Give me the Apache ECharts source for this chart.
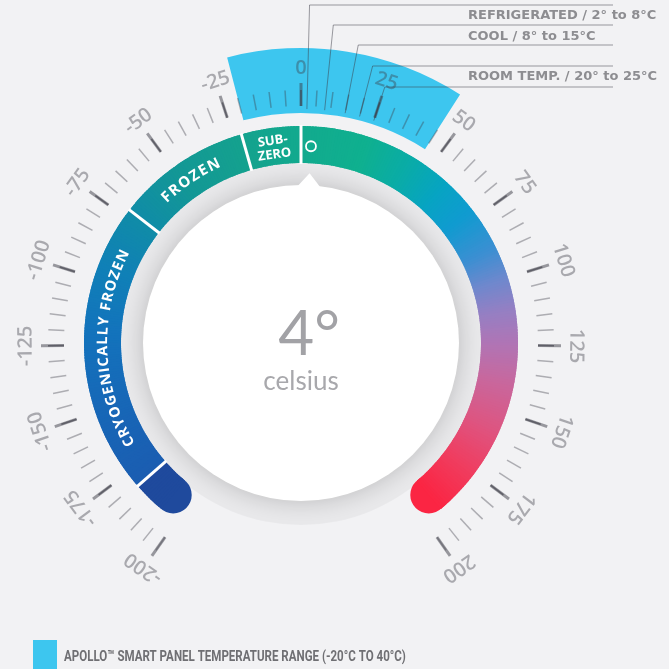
<!DOCTYPE html>
<html>
<head>
<meta charset="utf-8">
<script src="https://cdn.jsdelivr.net/npm/echarts@6/dist/echarts.min.js"></script>
<style>
  html, body { margin: 0; background: #f2f2f4; }
  #chart { width: 669px; height: 669px; }
</style>
</head>
<body>
<div id="chart"></div>
<script>
/* temperature dial: scale -200..200 °C, coloured zones, panel range, callouts */
const scaleMin = -200, scaleMax = 200;
const currentTemp = 4;

// coloured band, split into named zones
const zoneStart = [-193, -181, -72, -22, 0];
const zoneEnd = [-181, -72, -22, 0, 193];
const zoneLabel = ['', 'CRYOGENICALLY FROZEN', 'FROZEN', 'SUB-\nZERO', ''];
const zoneFont = [0, 14.5, 15, 13, 0];
const zoneSpacing = [0, 1.2, 1.6, 0, 0];

// colour stops along the band
const gradVals = [-181, -150, -120, -95, -72, -50, -22, 0, 25, 42, 58, 72, 88, 100, 112, 125, 140, 158, 176, 193];
const gradColors = ['#1b5db1', '#1767b7', '#1373bc', '#1080b7', '#108ca7', '#139796', '#14a28e', '#12aa8e', '#0fb08f',
  '#0aaca6', '#07a4c2', '#109bd0', '#3b8fd2', '#6e88cd', '#967fc3', '#b174b4', '#c9679c', '#de5480', '#f03c5e', '#fb2543'];
const capColor = '#1f4a9d';

// blue panel range
const panelFrom = -20, panelTo = 45;
const panelName = 'APOLLO™ SMART PANEL TEMPERATURE RANGE (-20°C TO 40°C)';

// callouts at the top right
const calloutVals = [2, 8, 15, 20, 25];
const calloutText = ['REFRIGERATED / 2° to 8°C', 'COOL / 8° to 15°C', 'ROOM TEMP. / 20° to 25°C'];

/* layout */
const CX = 301, CY = 343;
const BAND_R0 = 180, BAND_R = 217, BAND_MID = 198.5;
const lineY = [5, 25, 45, 66, 87], lineEndX = 613;
const textY = [16, 37, 77], textX = 468;
const INK = a => 'rgba(60,60,70,' + a + ')';

const mctx = document.createElement('canvas').getContext('2d');
const charW = (ch, font) => { mctx.font = font; return mctx.measureText(ch).width; };

function gradAt(v) {
  if (v <= gradVals[0]) return gradColors[0];
  for (let i = 1; i < gradVals.length; i++) {
    if (v <= gradVals[i]) {
      const t = (v - gradVals[i - 1]) / (gradVals[i] - gradVals[i - 1]);
      return echarts.color.lerp(t, [gradColors[i - 1], gradColors[i]]);
    }
  }
  return gradColors[gradColors.length - 1];
}

// canvas angle of a value, read through the polar axis
function angOf(api, v) {
  const c = api.coord([0, v]), p = api.coord([100, v]);
  return Math.atan2(p[1] - c[1], p[0] - c[0]);
}
function sectorShape(api, v0, v1, r0, r, pad) {
  const c = api.coord([0, v0]);
  let a0 = angOf(api, v0), a1 = angOf(api, v1);
  if (a1 < a0) a1 += 2 * Math.PI;
  return { cx: c[0], cy: c[1], r0, r, startAngle: a0, endAngle: a1 + (pad || 0), clockwise: true };
}

function renderZone(params, api) {
  const i = params.dataIndex, last = zoneStart.length - 1;
  const s = api.value(1), e = api.value(2);
  const kids = [];
  const col = v => i === 0 ? capColor : gradAt(v);
  const w = BAND_R - BAND_R0;
  if (i === 0) { const p = api.coord([BAND_MID, s]); kids.push({ type: 'circle', shape: { cx: p[0], cy: p[1], r: w / 2 }, style: { fill: capColor } }); }
  if (i === last) { const p = api.coord([BAND_MID, e]); kids.push({ type: 'circle', shape: { cx: p[0], cy: p[1], r: w / 2 }, style: { fill: gradAt(e) } }); }
  for (let v = s; v < e; v += 1) {
    const v2 = Math.min(v + 1, e);
    kids.push({ type: 'sector', shape: sectorShape(api, v, v2, BAND_R0, BAND_R, v2 < e ? 0.01 : 0), style: { fill: col((v + v2) / 2) } });
  }
  if (i > 0) {
    const a = api.coord([BAND_R0 - 1, s]), b = api.coord([BAND_R + 1, s]);
    kids.push({ type: 'line', shape: { x1: a[0], y1: a[1], x2: b[0], y2: b[1] }, style: { stroke: '#fff', lineWidth: 3 } });
  }
  const lab = zoneLabel[i];
  if (lab) {
    const vm = (s + e) / 2;
    const rr = 198;
    const fs = zoneFont[i];
    const rot = v => -angOf(api, v) - Math.PI / 2;
    if (lab.indexOf('\n') >= 0) {
      const p = api.coord([rr - 1, vm]);
      kids.push({ type: 'text', x: p[0], y: p[1], rotation: rot(vm),
        style: { text: lab, fill: '#fff', fontSize: fs, fontWeight: 'bold', fontFamily: 'Open Sans', lineHeight: 14, align: 'center', verticalAlign: 'middle' } });
    } else {
      const font = 'bold ' + fs + 'px "Open Sans"';
      const sp = zoneSpacing[i];
      const ws = lab.split('').map(ch => charW(ch, font));
      const total = ws.reduce((a, b) => a + b, 0) + sp * (ws.length - 1);
      let da = Math.abs(angOf(api, vm + 1) - angOf(api, vm));
      if (da > Math.PI) da = 2 * Math.PI - da;
      const pxPerUnit = rr * da;
      let off = -total / 2;
      lab.split('').forEach((ch, k) => {
        const v = vm + (off + ws[k] / 2) / pxPerUnit;
        off += ws[k] + sp;
        if (ch === ' ') return;
        const p = api.coord([rr, v]);
        kids.push({ type: 'text', x: p[0], y: p[1], rotation: rot(v),
          style: { text: ch, fill: '#fff', fontSize: fs, fontWeight: 'bold', fontFamily: 'Open Sans', align: 'center', verticalAlign: 'middle' } });
      });
    }
  }
  return { type: 'group', children: kids };
}

function renderPanel(params, api) {
  return { type: 'sector', shape: sectorShape(api, api.value(1), api.value(2), api.value(3), api.value(0)),
    style: { fill: '#3dc6ef' } };
}

function renderCallout(params, api) {
  const i = params.dataIndex;
  const c = api.coord([0, api.value(1)]), p = api.coord([api.value(0), api.value(1)]);
  const dx = p[0] - c[0], dy = p[1] - c[1];
  const t = (lineY[i] - c[1]) / dy;
  const elbow = [c[0] + dx * t, lineY[i]];
  return { type: 'polyline', shape: { points: [p, elbow, [lineEndX, lineY[i]]] },
    style: { stroke: INK(0.5), lineWidth: 1, fill: null } };
}

function renderMarker(params, api) {
  const p = api.coord([api.value(0), api.value(1)]);
  return { type: 'circle', shape: { cx: p[0], cy: p[1], r: 5 }, style: { fill: null, stroke: '#fff', lineWidth: 1.8 } };
}

const chart = echarts.init(document.getElementById('chart'), null, { renderer: 'canvas' });
chart.setOption({
  backgroundColor: '#f2f2f4',
  animation: false,
  textStyle: { fontFamily: 'Open Sans' },
  polar: { center: [CX, CY], radius: 340 },
  angleAxis: { type: 'value', min: scaleMin, max: scaleMax, startAngle: 235, endAngle: -55, clockwise: true, show: false,
    axisLine: { show: false }, axisTick: { show: false }, axisLabel: { show: false }, splitLine: { show: false } },
  radiusAxis: { type: 'value', min: 0, max: 340, show: false,
    axisLine: { show: false }, axisTick: { show: false }, axisLabel: { show: false }, splitLine: { show: false } },
  legend: {
    data: [panelName], left: 28, top: 635, icon: 'rect', itemWidth: 24, itemHeight: 32, selectedMode: false,
    formatter: () => ''
  },
  graphic: calloutText.map((t, i) => ({
    type: 'text', x: textX, y: textY[i], silent: true,
    style: { text: t, fill: '#8d8d91', fontSize: 13, fontWeight: 'bold', fontFamily: 'DejaVu Sans', verticalAlign: 'middle' }
  })).concat([{
    type: 'text', x: 64, y: 657, scaleX: 0.77, silent: true,
    style: { text: panelName, fill: '#6f6f73', fontSize: 15, fontWeight: 'bold', fontFamily: 'Roboto', verticalAlign: 'middle' }
  }]),
  series: [
    { type: 'pie', z: 1, silent: true, center: [CX, CY], radius: [150, 182], label: { show: false }, labelLine: { show: false },
      itemStyle: { color: '#e9e9eb' }, data: [1] },
    { type: 'pie', z: 1, silent: true, center: [CX, CY], radius: [0, 158], label: { show: false }, labelLine: { show: false },
      itemStyle: { color: '#ffffff', shadowBlur: 24, shadowColor: 'rgba(0,0,0,0.2)' }, data: [1] },
    { type: 'custom', z: 2, name: 'zones', coordinateSystem: 'polar', silent: true, renderItem: renderZone,
      data: zoneStart.map((s, i) => [BAND_MID, s, zoneEnd[i]]) },
    { type: 'custom', z: 2, name: panelName, coordinateSystem: 'polar', silent: true, renderItem: renderPanel,
      itemStyle: { color: '#3dc6ef' }, data: [[295, panelFrom, panelTo, 230]] },
    { type: 'custom', z: 2, name: 'callouts', coordinateSystem: 'polar', silent: true, renderItem: renderCallout,
      data: calloutVals.map(v => [234, v]) },
    { type: 'custom', z: 2, name: 'marker', coordinateSystem: 'polar', silent: true, renderItem: renderMarker,
      data: [[197, currentTemp]] },
    {
      type: 'gauge', z: 5, silent: true, center: [CX, CY], radius: 260, min: scaleMin, max: scaleMax,
      startAngle: 235.0001, endAngle: -55, splitNumber: 16,
      axisLine: { show: false, lineStyle: { width: 0 } },
      splitLine: { length: 23, distance: 0, lineStyle: { color: INK(0.5), width: 3 } },
      axisTick: { splitNumber: 5, length: 16, distance: 7, lineStyle: { color: INK(0.38), width: 1.5 } },
      axisLabel: { distance: -38, rotate: 'tangential', color: INK(0.4), fontSize: 20, fontWeight: 600, fontFamily: 'Open Sans' },
      pointer: { show: true, icon: 'triangle', length: 13, width: 22, offsetCenter: [0, -157], itemStyle: { color: '#ffffff' } },
      anchor: { show: false },
      progress: { show: false },
      title: { show: true, offsetCenter: [0, 39], color: '#a8a8ac', fontSize: 26, fontFamily: 'Lato' },
      detail: { show: true, offsetCenter: [8, -8], formatter: '{value}°', color: '#a2a2a6', fontSize: 62, fontWeight: 'normal',
        fontFamily: 'Lato', lineHeight: 62 },
      data: [{ value: currentTemp, name: 'celsius' }]
    }
  ]
});
</script>
</body>
</html>
